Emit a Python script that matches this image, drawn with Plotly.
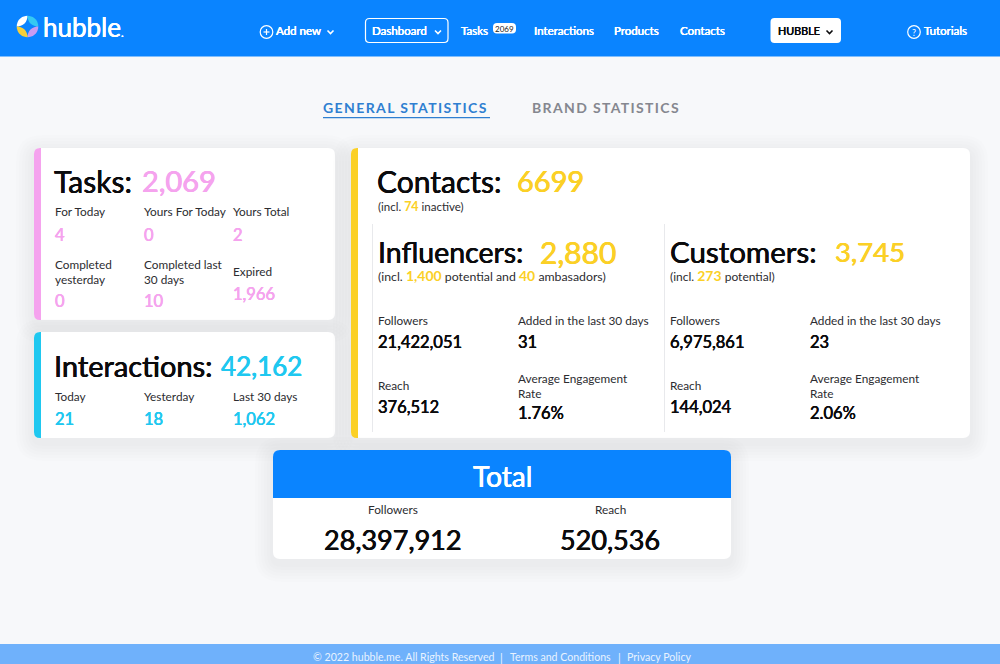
import math
import plotly.graph_objects as go

FONT = "Lato"
BLUE = "#0a84ff"
PINK = "#f5a3ee"
CYAN = "#1fc8f0"
YELLOW = "#fbd026"
DARK = "#0b0b0d"
GREY = "#2c2c30"

nav_items = ["Add new", "Dashboard", "Tasks", "Interactions", "Products", "Contacts", "HUBBLE", "Tutorials"]
tasks_badge = "2069"
tabs = ["GENERAL STATISTICS", "BRAND STATISTICS"]

tasks_total = 2069
task_labels = ["For Today", "Yours For Today", "Yours Total", "Completed<br>yesterday", "Completed last<br>30 days", "Expired"]
task_values = [4, 0, 2, 0, 10, 1966]

interactions_total = 42162
interaction_labels = ["Today", "Yesterday", "Last 30 days"]
interaction_values = [21, 18, 1062]

contacts_total = "6699"
contacts_inactive = 74

influencers_total = 2880
influencers_potential = 1400
influencers_ambassadors = 40
customers_total = 3745
customers_potential = 273

metric_labels = ["Followers", "Added in the last 30 days", "Reach", "Average Engagement<br>Rate"]
influencer_metrics = ["21,422,051", "31", "376,512", "1.76%"]
customer_metrics = ["6,975,861", "23", "144,024", "2.06%"]

total_labels = ["Followers", "Reach"]
total_values = [28397912, 520536]

footer_items = ["© 2022 hubble.me. All Rights Reserved", "Terms and Conditions", "Privacy Policy"]

shapes = []
annotations = []


def rounded(x0, y0, x1, y1, r, tl=True, tr=True, br=True, bl=True):
    p = f"M{x0 + (r if tl else 0)},{y0} L{x1 - (r if tr else 0)},{y0} "
    if tr:
        p += f"Q{x1},{y0} {x1},{y0 + r} "
    p += f"L{x1},{y1 - (r if br else 0)} "
    if br:
        p += f"Q{x1},{y1} {x1 - r},{y1} "
    p += f"L{x0 + (r if bl else 0)},{y1} "
    if bl:
        p += f"Q{x0},{y1} {x0},{y1 - r} "
    p += f"L{x0},{y0 + (r if tl else 0)} "
    if tl:
        p += f"Q{x0},{y0} {x0 + r},{y0} "
    return p + "Z"


def box(x0, y0, x1, y1, color, r=0, line=None, width=1, **corners):
    shapes.append(dict(type="path", path=rounded(x0, y0, x1, y1, r, **corners), fillcolor=color,
                       line=dict(color=line, width=width) if line else dict(width=0), layer="below"))


def card(x0, y0, x1, y1, accent=None):
    for spread in range(18, 0, -3):
        shapes.append(dict(type="path", path=rounded(x0 - spread, y0 - spread + 5, x1 + spread, y1 + spread + 5, 8 + spread),
                           fillcolor="rgba(30,35,40,0.009)", line=dict(width=0), layer="below"))
    box(x0, y0, x1, y1, "white", r=7)
    if accent:
        box(x0, y0, x0 + 7, y1, accent, r=6, tr=False, br=False)


def text(x, y, s, size=12, color=GREY, bold=0, anchor="left"):
    # annotations carry a small inner pad, taken off here so x, y are the glyph edge
    if anchor == "left":
        x -= 2
    font = dict(family=FONT, size=size, color=color)
    if bold:
        font["shadow"] = f"{bold}px 0 0 {color}, -{bold}px 0 0 {color}"
    annotations.append(dict(x=x, y=y - 0.5, xref="x", yref="y", text=s, showarrow=False, xanchor=anchor, yanchor="middle",
                            align=anchor, font=font))


def hl(value, size):
    return f"<span style='color:{YELLOW};font-size:{size}px'><b>{value}</b></span>"


def chevron(cx, cy, color):
    shapes.append(dict(type="path", path=f"M{cx - 3},{cy - 1.5} L{cx},{cy + 1.5} L{cx + 3},{cy - 1.5}",
                       line=dict(color=color, width=1.6), layer="above"))


def ring(cx, cy, r, color="white"):
    shapes.append(dict(type="circle", x0=cx - r, x1=cx + r, y0=cy - r, y1=cy + r,
                       line=dict(color=color, width=1.2), layer="above"))


def wedge(cx, cy, r, a0, a1, color):
    pts = [(cx + r * math.cos(math.radians(a)), cy + r * math.sin(math.radians(a))) for a in range(a0, a1 + 1, 10)]
    path = f"M{cx},{cy} " + " ".join(f"L{px:.1f},{py:.1f}" for px, py in pts) + " Z"
    shapes.append(dict(type="path", path=path, fillcolor=color, line=dict(width=0), layer="above"))


# page blocks
box(0, 0, 1000, 664, "#f7f8fa")
box(0, 0, 1000, 56.5, BLUE)
box(0, 644, 1000, 664, "#6fb1fb")

# header
lx, ly = 27.5, 26.5
wedge(lx, ly, 10.8, 180, 270, "white")
wedge(lx, ly, 10.8, 270, 360, "#35c9f2")
wedge(lx, ly, 10.8, 0, 90, "#c99bf2")
wedge(lx, ly, 10.8, 90, 180, "#f7cf3a")
shapes.append(dict(type="path", path=f"M{lx},{ly - 6.5} Q{lx + 1.5},{ly - 1.5} {lx + 6.5},{ly} Q{lx + 1.5},{ly + 1.5} {lx},{ly + 6.5} "
                                      f"Q{lx - 1.5},{ly + 1.5} {lx - 6.5},{ly} Q{lx - 1.5},{ly - 1.5} {lx},{ly - 6.5} Z",
                   fillcolor=BLUE, line=dict(color=BLUE, width=1.5), layer="above"))
text(43, 27, "hubble<span style='font-size:11px'>.</span>", size=26, color="white", bold=0.2)

ring(266.5, 32, 6.3)
shapes.append(dict(type="line", x0=263.5, x1=269.5, y0=32, y1=32, line=dict(color="white", width=1.2), layer="above"))
shapes.append(dict(type="line", x0=266.5, x1=266.5, y0=29, y1=35, line=dict(color="white", width=1.2), layer="above"))
text(276, 31, nav_items[0], size=11.5, color="white", bold=0.15)
chevron(330.5, 32, "white")

box(365.5, 18.5, 448, 42.5, "rgba(0,0,0,0)", r=4, line="white", width=1.2)
text(372, 31, nav_items[1], size=11.5, color="white", bold=0.15)
chevron(438, 32, "white")

text(461, 31, nav_items[2], size=11.5, color="white", bold=0.15)
box(493, 23, 516, 33.5, "white", r=4)
text(504.5, 29, tasks_badge, size=8, color="#222222", anchor="center")
text(534, 31, nav_items[3], size=11.5, color="white", bold=0.15)
text(614, 31, nav_items[4], size=11.5, color="white", bold=0.15)
text(680, 31, nav_items[5], size=11.5, color="white", bold=0.15)

box(770.5, 18, 841, 43, "white", r=4)
text(777.5, 31, nav_items[6], size=10.8, color=DARK, bold=0.15)
chevron(829.5, 32, DARK)

ring(914, 32, 6.3)
text(914, 33, "?", size=9, color="white", anchor="center")
text(924, 31, nav_items[7], size=11.5, color="white", bold=0.15)

# tabs
text(323, 108, f"<span style='letter-spacing:1.4px'><b>{tabs[0]}</b></span>", size=14, color="#2f7fd1")
box(323, 117, 490, 118.2, "#2f7fd1")
text(532, 108, f"<span style='letter-spacing:1.35px'><b>{tabs[1]}</b></span>", size=14, color="#85878f")

# tasks card
card(34, 148, 335, 320, PINK)
text(54, 181, "Tasks:", size=30, color=DARK, bold=0.3)
text(142, 181, f"{tasks_total:,}", size=29, color=PINK, bold=0.35)
cols = [54.5, 143.5, 232.5]
task_label_y = [212, 212, 212, 272, 272, 272]
task_value_y = [235, 235, 235, 301, 301, 294]
for i, (lab, val) in enumerate(zip(task_labels, task_values)):
    text(cols[i % 3], task_label_y[i], lab, size=11.8)
    text(cols[i % 3], task_value_y[i], f"{val:,}", size=16.5, color=PINK, bold=0.22)

# interactions card
card(34, 332, 335, 438, CYAN)
text(54, 366, "Interactions:", size=29, color=DARK, bold=0.3)
text(221, 366, f"{interactions_total:,}", size=26, color=CYAN, bold=0.35)
for i, (lab, val) in enumerate(zip(interaction_labels, interaction_values)):
    text(cols[i], 397, lab, size=11.8)
    text(cols[i], 419, f"{val:,}", size=16.5, color=CYAN, bold=0.22)

# contacts card
card(351, 148, 970, 438, YELLOW)
text(377, 181, "Contacts:", size=30, color=DARK, bold=0.3)
text(517, 181, contacts_total, size=29, color=YELLOW, bold=0.35)
text(378, 207, f"(incl. {hl(contacts_inactive, 12.5)} inactive)", size=11.5)
for vx in (372.5, 664.5):
    shapes.append(dict(type="line", x0=vx, x1=vx, y0=224, y1=432, line=dict(color="#e8e9ec", width=1), layer="below"))

text(378, 252, "Influencers:", size=28.5, color=DARK, bold=0.3)
text(540, 252, f"{influencers_total:,}", size=30, color=YELLOW, bold=0.35)
text(378, 276, f"(incl. {hl(f'{influencers_potential:,}', 14)} potential and {hl(influencers_ambassadors, 14)} ambasadors)", size=12.3)
text(670, 252, "Customers:", size=29.5, color=DARK, bold=0.3)
text(835, 252, f"{customers_total:,}", size=27.5, color=YELLOW, bold=0.35)
text(670, 276, f"(incl. {hl(customers_potential, 14)} potential)", size=12)

metric_label_y = [321, 321, 386, 386]
metric_value_y = [342, 342, 407, 413]
for x_base, metrics in ((378, influencer_metrics), (670, customer_metrics)):
    for i, (lab, val) in enumerate(zip(metric_labels, metrics)):
        mx = x_base + (140 if i % 2 else 0)
        text(mx, metric_label_y[i], lab, size=11.8)
        text(mx, metric_value_y[i], val, size=16.5, color=DARK, bold=0.22)

# total card
card(273, 450, 731, 559)
box(273, 450, 731, 498, BLUE, r=7, br=False, bl=False)
text(502, 476, "Total", size=28, color="white", bold=0.3, anchor="center")
for cx, lab, val in zip((393, 610), total_labels, total_values):
    text(cx, 510, lab, size=11.8, anchor="center")
    text(cx, 540, f"{val:,}", size=27, color=DARK, bold=0.35, anchor="center")

# footer
text(403, 657.5, footer_items[0], size=10.6, color="#e9f3ff", anchor="center")
text(501.5, 657.5, "|", size=11, color="#e9f3ff", anchor="center")
text(560, 657.5, footer_items[1], size=10.6, color="#e9f3ff", anchor="center")
text(619, 657.5, "|", size=11, color="#e9f3ff", anchor="center")
text(659, 657.5, footer_items[2], size=10.6, color="#e9f3ff", anchor="center")

fig = go.Figure()
fig.update_layout(
    width=1000, height=664, margin=dict(l=0, r=0, t=0, b=0),
    paper_bgcolor="#f7f8fa", plot_bgcolor="#f7f8fa",
    xaxis=dict(range=[0, 1000], visible=False, fixedrange=True),
    yaxis=dict(range=[664, 0], visible=False, fixedrange=True),
    shapes=shapes, annotations=annotations, showlegend=False,
)
fig.write_html("out.html", config=dict(displayModeBar=False),
               post_script="document.body.style.margin='0';document.body.style.overflow='hidden';")
